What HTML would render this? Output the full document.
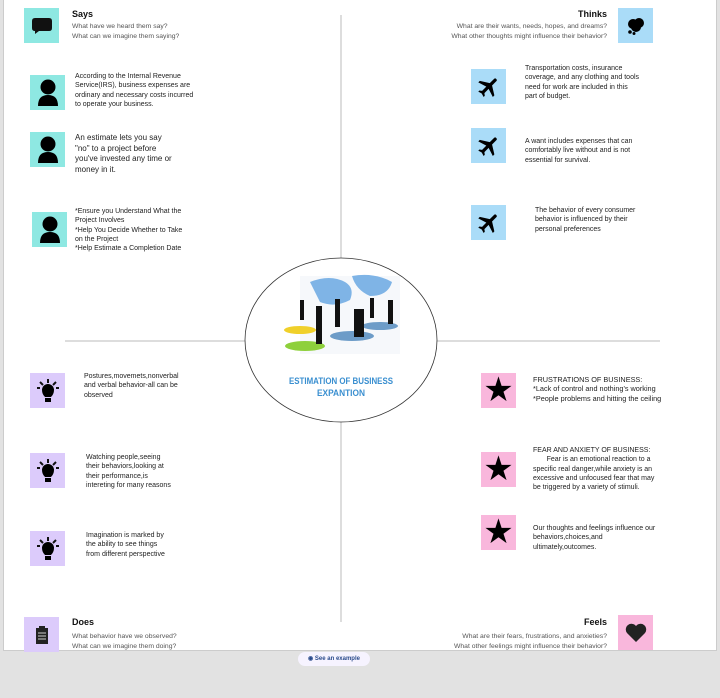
<!DOCTYPE html>
<html><head><meta charset="utf-8"><style>
body{margin:0;width:720px;height:698px;background:#e2e2e2;font-family:"Liberation Sans",sans-serif;position:relative;overflow:hidden}
#card{position:absolute;left:3px;top:0;width:712px;height:650px;background:#fff;border:1px solid #ccc;border-top:none}
.ic{position:absolute;width:35px;height:35px;display:flex;align-items:center;justify-content:center}
.c{background:#8ee8e2}.b{background:#aadcf8}.p{background:#dccbfb}.k{background:#f9b7dc}
.t{position:absolute;font-size:7px;line-height:9.3px;color:#222}
.h{position:absolute;font-size:9px;font-weight:bold;color:#111}
.s{position:absolute;font-size:6.8px;line-height:9.5px;color:#555}
.st{font-size:34px;line-height:35px;color:#000}
</style></head><body>
<div id="card"></div>
<div style="position:absolute;left:340px;top:15px;width:2px;height:607px;background:#ddd"></div>
<div style="position:absolute;left:65px;top:340px;width:595px;height:2px;background:#ddd"></div>
<svg style="position:absolute;left:240px;top:254px" width="202" height="174">
<ellipse cx="101" cy="86" rx="96" ry="82" fill="#fff" stroke="#333" stroke-width="0.8"/>
<rect x="60" y="22" width="100" height="78" fill="#f6f8fb"/>
<path d="M70 28 q20 -8 35 0 q10 6 5 18 q-15 8 -30 2 z M112 22 q22 -4 40 6 q-4 14 -22 14 q-14 -6 -18 -20z" fill="#7fb4e6"/>
<ellipse cx="65" cy="92" rx="20" ry="5" fill="#8ed03c"/>
<ellipse cx="60" cy="76" rx="16" ry="4" fill="#f0d02a"/>
<ellipse cx="112" cy="82" rx="22" ry="5" fill="#6d9cc8"/>
<ellipse cx="140" cy="72" rx="18" ry="4" fill="#6d9cc8"/>
<g fill="#111"><rect x="76" y="52" width="6" height="38"/><rect x="95" y="45" width="5" height="28"/><rect x="114" y="55" width="10" height="28"/><rect x="148" y="46" width="5" height="24"/><rect x="60" y="46" width="4" height="20"/><rect x="130" y="44" width="4" height="20"/></g>
<text x="101" y="130" text-anchor="middle" font-family="Liberation Sans Narrow,Liberation Sans,sans-serif" font-size="9.5" font-weight="bold" fill="#3a8fd0" textLength="104" lengthAdjust="spacingAndGlyphs">ESTIMATION OF BUSINESS</text>
<text x="101" y="142" text-anchor="middle" font-family="Liberation Sans Narrow,Liberation Sans,sans-serif" font-size="9.5" font-weight="bold" fill="#3a8fd0" textLength="48" lengthAdjust="spacingAndGlyphs">EXPANTION</text>
</svg>

<div class="ic c" style="left:24px;top:8px"><svg width="20" height="18"><path d="M3 1h14q3 0 3 3v7q0 3-3 3H7l-4 3v-3q-3 0-3-3V4q0-3 3-3z" fill="#111"/></svg></div>
<div class="h" style="left:72px;top:9px">Says</div>
<div class="s" style="left:72px;top:22px">What have we heard them say?<br>What can we imagine them saying?</div>

<div class="ic b" style="left:618px;top:8px"><svg width="22" height="18"><circle cx="8" cy="7" r="5"/><circle cx="14" cy="6" r="5"/><circle cx="11" cy="10" r="5"/><circle cx="5" cy="15" r="1.8"/><circle cx="9" cy="16.5" r="1.5"/></svg></div>
<div class="h" style="right:113px;top:9px">Thinks</div>
<div class="s" style="right:113px;top:22px;text-align:right">What are their wants, needs, hopes, and dreams?<br>What other thoughts might influence their behavior?</div>

<div class="ic p" style="left:24px;top:617px"><svg width="14" height="19"><rect x="1" y="3" width="12" height="16" fill="#222"/><rect x="4" y="1" width="6" height="4" fill="#222"/><g stroke="#ccc" stroke-width="1"><path d="M3 8h8M3 11h8M3 14h8"/></g></svg></div>
<div class="h" style="left:72px;top:617px">Does</div>
<div class="s" style="left:72px;top:632px">What behavior have we observed?<br>What can we imagine them doing?</div>

<div class="ic k" style="left:618px;top:615px"><svg width="22" height="20"><path d="M11 19L2 10a5 5 0 0 1 9-7a5 5 0 0 1 9 7z" fill="#222"/></svg></div>
<div class="h" style="right:113px;top:617px">Feels</div>
<div class="s" style="right:113px;top:632px;text-align:right">What are their fears, frustrations, and anxieties?<br>What other feelings might influence their behavior?</div>

<div class="ic c" style="left:30px;top:75px"><svg width="22" height="28"><circle cx="11" cy="8" r="7.5"/><path d="M1 27q0-11 10-11q10 0 10 11z"/></svg></div>
<div class="t" style="left:75px;top:72px">According to the Internal Revenue<br>Service(IRS), business expenses are<br>ordinary and necessary costs incurred<br>to operate your business.</div>
<div class="ic c" style="left:30px;top:132px"><svg width="22" height="28"><circle cx="11" cy="8" r="7.5"/><path d="M1 27q0-11 10-11q10 0 10 11z"/></svg></div>
<div class="t" style="left:75px;top:133px;font-size:8px;line-height:10.5px">An estimate lets you say<br>"no" to a project before<br>you've invested any time or<br>money in it.</div>
<div class="ic c" style="left:32px;top:212px"><svg width="22" height="28"><circle cx="11" cy="8" r="7.5"/><path d="M1 27q0-11 10-11q10 0 10 11z"/></svg></div>
<div class="t" style="left:75px;top:207px">*Ensure you Understand What the<br>Project Involves<br>*Help You Decide Whether to Take<br>on the Project<br>*Help Estimate a Completion Date</div>

<div class="ic b" style="left:471px;top:69px"><svg width="26" height="26" viewBox="0 0 24 24"><path d="M21 16v-2l-8-5V3.5a1.5 1.5 0 0 0-3 0V9l-8 5v2l8-2.5V19l-2 1.5V22l3.5-1 3.5 1v-1.5L13 19v-5.5z" transform="rotate(45 12 12)"/></svg></div>
<div class="t" style="left:525px;top:64px">Transportation costs, insurance<br>coverage, and any clothing and tools<br>need for work are included in this<br>part of budget.</div>
<div class="ic b" style="left:471px;top:128px"><svg width="26" height="26" viewBox="0 0 24 24"><path d="M21 16v-2l-8-5V3.5a1.5 1.5 0 0 0-3 0V9l-8 5v2l8-2.5V19l-2 1.5V22l3.5-1 3.5 1v-1.5L13 19v-5.5z" transform="rotate(45 12 12)"/></svg></div>
<div class="t" style="left:525px;top:137px">A want includes expenses that can<br>comfortably live without and is not<br>essential for survival.</div>
<div class="ic b" style="left:471px;top:205px"><svg width="26" height="26" viewBox="0 0 24 24"><path d="M21 16v-2l-8-5V3.5a1.5 1.5 0 0 0-3 0V9l-8 5v2l8-2.5V19l-2 1.5V22l3.5-1 3.5 1v-1.5L13 19v-5.5z" transform="rotate(45 12 12)"/></svg></div>
<div class="t" style="left:535px;top:206px">The behavior of every consumer<br>behavior is influenced by their<br>personal preferences</div>

<div class="ic p" style="left:30px;top:373px"><svg width="24" height="26"><path d="M12 1v4M4 4l3 3M20 4l-3 3M1 10h3M23 10h-3" stroke="#111" stroke-width="2"/><path d="M6 12a6 6 0 0 1 12 0q0 4-3 7h-6q-3-3-3-7z"/><rect x="9" y="20" width="6" height="4"/></svg></div>
<div class="t" style="left:84px;top:372px">Postures,movemets,nonverbal<br>and verbal behavior-all can be<br>observed</div>
<div class="ic p" style="left:30px;top:453px"><svg width="24" height="26"><path d="M12 1v4M4 4l3 3M20 4l-3 3M1 10h3M23 10h-3" stroke="#111" stroke-width="2"/><path d="M6 12a6 6 0 0 1 12 0q0 4-3 7h-6q-3-3-3-7z"/><rect x="9" y="20" width="6" height="4"/></svg></div>
<div class="t" style="left:86px;top:453px">Watching people,seeing<br>their behaviors,looking at<br>their performance,is<br>intereting for many reasons</div>
<div class="ic p" style="left:30px;top:531px"><svg width="24" height="26"><path d="M12 1v4M4 4l3 3M20 4l-3 3M1 10h3M23 10h-3" stroke="#111" stroke-width="2"/><path d="M6 12a6 6 0 0 1 12 0q0 4-3 7h-6q-3-3-3-7z"/><rect x="9" y="20" width="6" height="4"/></svg></div>
<div class="t" style="left:86px;top:531px">Imagination is marked by<br>the ability to see things<br>from different perspective</div>

<div class="ic k" style="left:481px;top:373px"><span class="st">★</span></div>
<div class="t" style="left:533px;top:375px;font-size:7.3px">FRUSTRATIONS OF BUSINESS:<br>*Lack of control and nothing's working<br>*People problems and hitting the ceiling</div>
<div class="ic k" style="left:481px;top:452px"><span class="st">★</span></div>
<div class="t" style="left:533px;top:446px">FEAR AND ANXIETY OF BUSINESS:<br>&nbsp;&nbsp;&nbsp;&nbsp;&nbsp;&nbsp;&nbsp;Fear is an emotional reaction to a<br>specific real danger,while anxiety is an<br>excessive and unfocused fear that may<br>be triggered by a variety of stimuli.</div>
<div class="ic k" style="left:481px;top:515px"><span class="st">★</span></div>
<div class="t" style="left:533px;top:524px">Our thoughts and feelings influence our<br>behaviors,choices,and<br>ultimately,outcomes.</div>

<div style="position:absolute;left:298px;top:652px;width:72px;height:14px;border-radius:7px;background:#f6f3ff;font-size:6px;font-weight:bold;color:#2a4b8c;line-height:14px;text-align:center">◉ See an example</div>
</body></html>
